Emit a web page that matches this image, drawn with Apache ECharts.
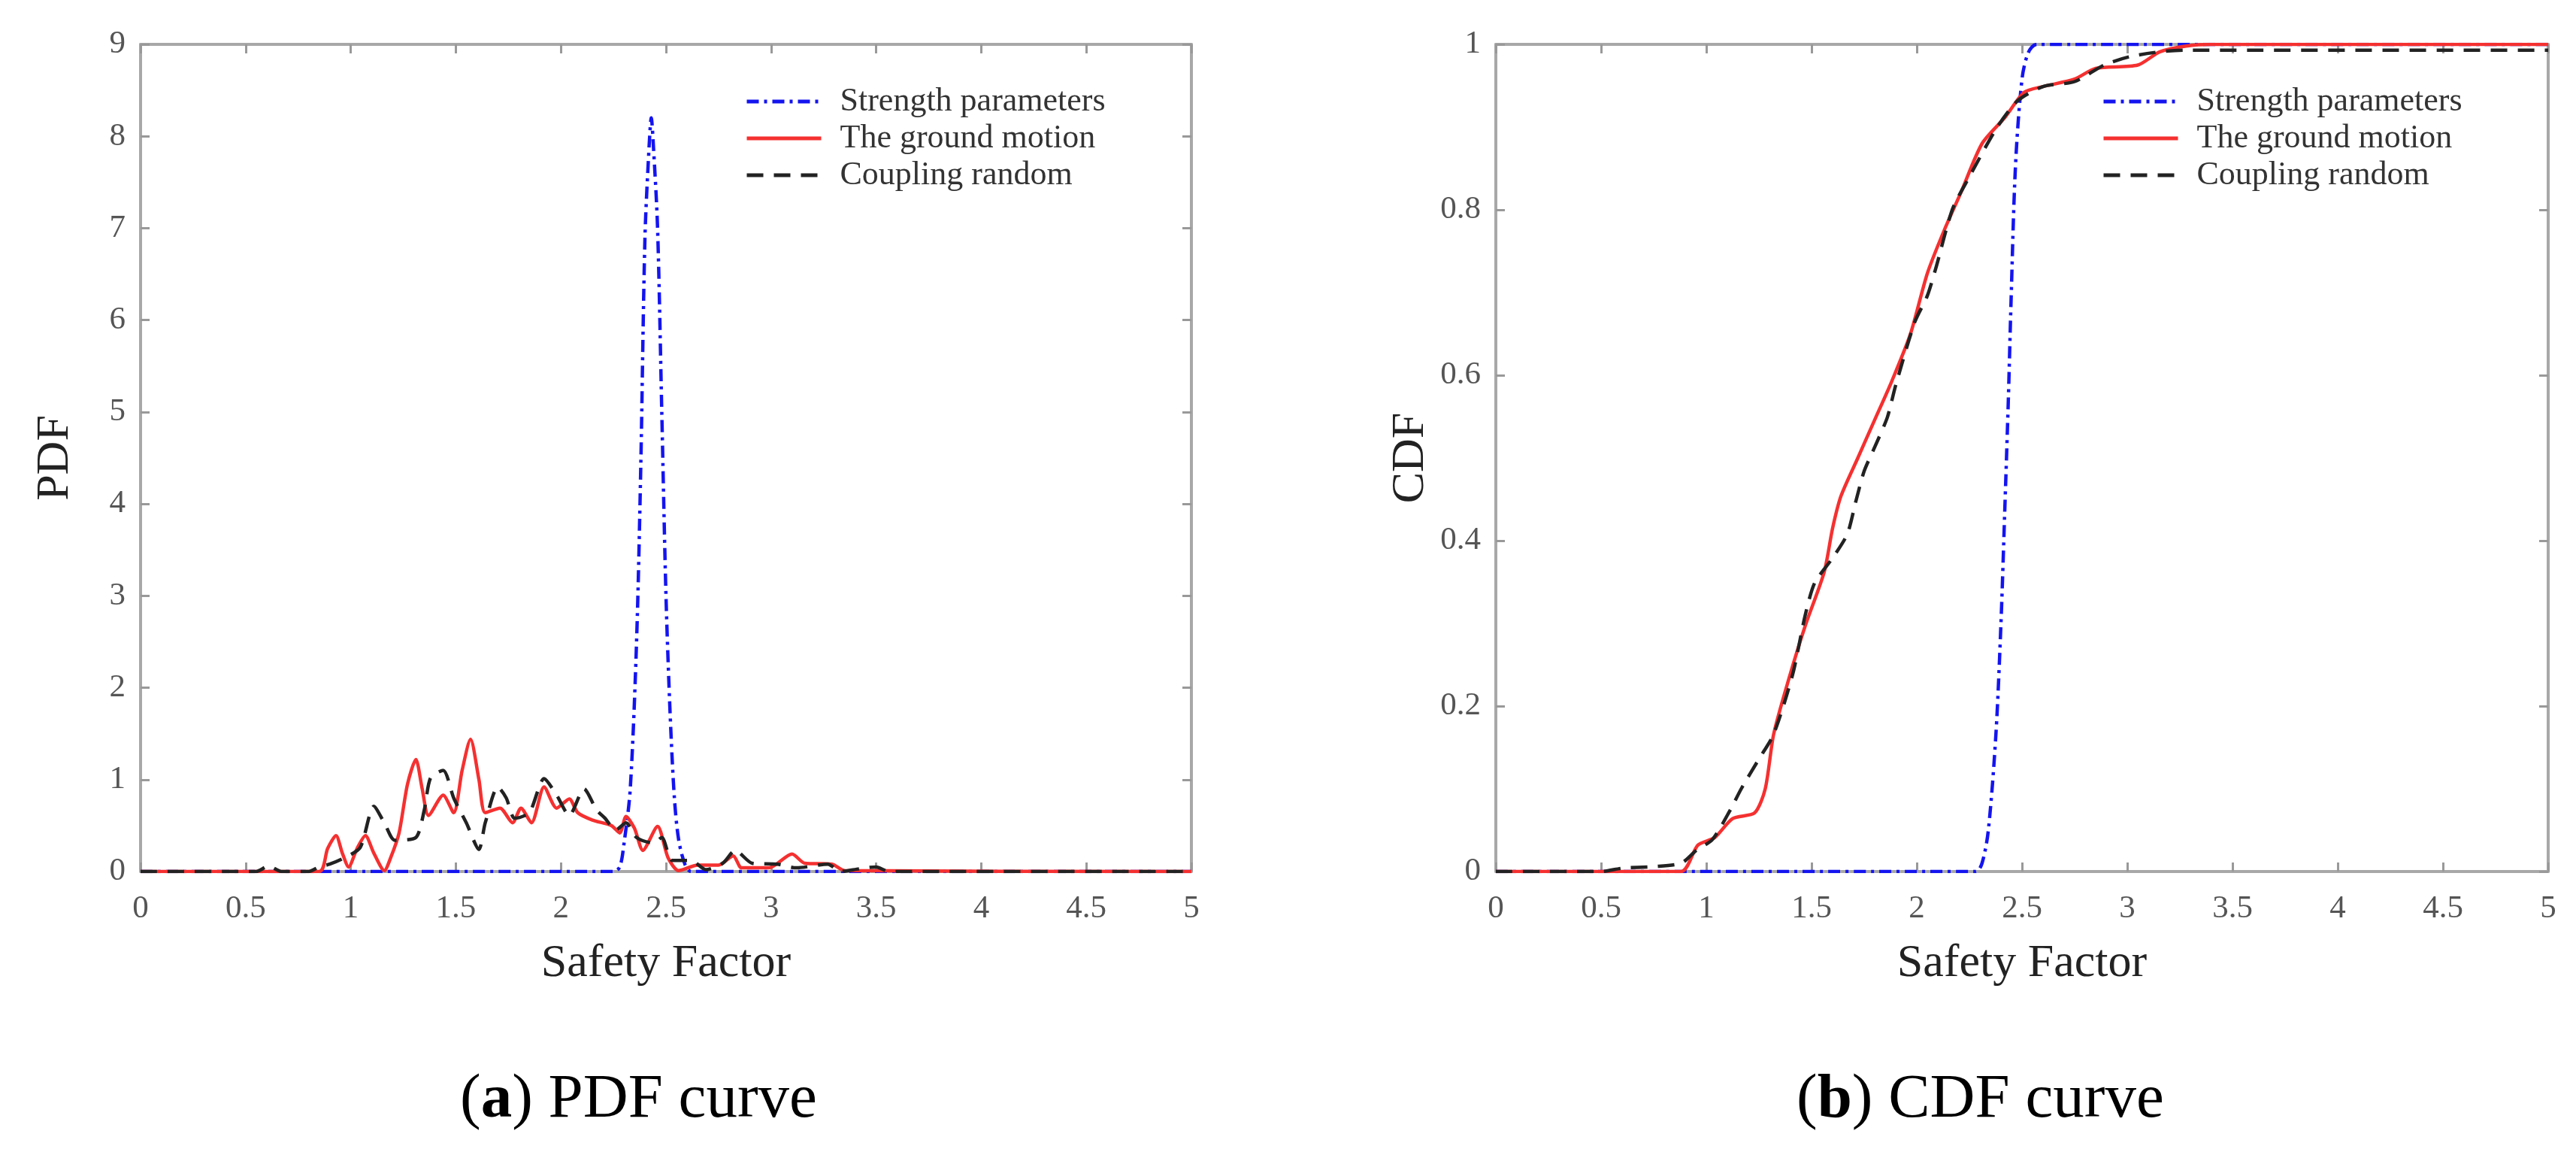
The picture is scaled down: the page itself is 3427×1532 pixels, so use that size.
<!DOCTYPE html>
<html><head><meta charset="utf-8">
<script src="https://cdn.jsdelivr.net/npm/echarts@6/dist/echarts.min.js"></script>
<style>html,body{margin:0;padding:0;background:#fff}#c{width:3427px;height:1532px}</style>
</head><body><div id="c"></div>
<script>
const seriesNames = ['Strength parameters', 'The ground motion', 'Coupling random'];
const xAxisTitle = 'Safety Factor';
const captions = [['a', ' PDF curve'], ['b', ' CDF curve']];

// (a) PDF curves
const pdfStrengthX = [0, 2.25, 2.28, 2.30, 2.33, 2.36, 2.38, 2.40, 2.42, 2.43, 2.44, 2.46, 2.48, 2.50, 2.52, 2.54, 2.56, 2.59, 2.62, 5];
const pdfStrengthY = [0, 0, 0.05, 0.3, 0.9, 2.5, 4.4, 6.9, 7.9, 8.2, 7.9, 7.0, 5.0, 3.0, 1.7, 0.8, 0.35, 0.08, 0, 0];

const pdfGroundX = [0, 0.85, 0.89, 0.93, 0.96, 0.99, 1.03, 1.07, 1.11, 1.16, 1.19, 1.23, 1.27, 1.31, 1.34, 1.37, 1.44, 1.49, 1.53, 1.57, 1.61, 1.64, 1.71, 1.77, 1.81, 1.86, 1.92, 1.98, 2.04, 2.08, 2.15, 2.24, 2.28, 2.31, 2.35, 2.39, 2.46, 2.51, 2.56, 2.65, 2.75, 2.82, 2.86, 2.99, 3.10, 3.16, 3.29, 3.35, 5];
const pdfGroundY = [0, 0, 0.25, 0.39, 0.2, 0.05, 0.25, 0.39, 0.2, 0.01, 0.15, 0.42, 0.95, 1.22, 0.9, 0.61, 0.83, 0.64, 1.1, 1.44, 1.0, 0.64, 0.69, 0.53, 0.69, 0.53, 0.92, 0.69, 0.79, 0.64, 0.56, 0.50, 0.42, 0.60, 0.47, 0.23, 0.49, 0.15, 0.01, 0.07, 0.07, 0.17, 0.04, 0.04, 0.19, 0.09, 0.08, 0.01, 0];

const pdfCouplingX = [0, 0.55, 0.61, 0.67, 0.80, 0.85, 0.90, 0.97, 1.045, 1.11, 1.16, 1.21, 1.31, 1.35, 1.38, 1.44, 1.49, 1.55, 1.61, 1.64, 1.70, 1.74, 1.78, 1.85, 1.92, 1.98, 2.04, 2.11, 2.17, 2.21, 2.26, 2.31, 2.36, 2.44, 2.48, 2.53, 2.62, 2.69, 2.77, 2.83, 2.91, 3.03, 3.12, 3.27, 3.33, 3.42, 3.50, 3.56, 5];
const pdfCouplingY = [0, 0, 0.06, 0, 0, 0.05, 0.08, 0.15, 0.26, 0.71, 0.53, 0.34, 0.37, 0.67, 1.02, 1.10, 0.80, 0.53, 0.24, 0.53, 0.92, 0.80, 0.58, 0.64, 1.01, 0.83, 0.61, 0.90, 0.67, 0.58, 0.45, 0.53, 0.37, 0.31, 0.37, 0.12, 0.12, 0.02, 0.09, 0.23, 0.09, 0.08, 0.04, 0.08, 0.0, 0.03, 0.05, 0, 0];

// (b) CDF curves
const cdfStrengthX = [0, 2.28, 2.31, 2.34, 2.376, 2.40, 2.417, 2.435, 2.448, 2.469, 2.50, 2.53, 2.57, 5];
const cdfStrengthY = [0, 0, 0.01, 0.05, 0.166, 0.30, 0.428, 0.57, 0.69, 0.853, 0.958, 0.99, 1, 1];

const cdfGroundX = [0, 0.88, 0.96, 1.04, 1.125, 1.23, 1.28, 1.32, 1.39, 1.47, 1.56, 1.60, 1.64, 1.72, 1.80, 1.88, 1.97, 2.05, 2.13, 2.21, 2.31, 2.42, 2.51, 2.60, 2.75, 2.85, 3.05, 3.155, 3.28, 3.4, 5];
const cdfGroundY = [0, 0, 0.032, 0.041, 0.064, 0.071, 0.10, 0.166, 0.231, 0.297, 0.362, 0.415, 0.454, 0.50, 0.546, 0.592, 0.650, 0.723, 0.775, 0.821, 0.880, 0.912, 0.942, 0.949, 0.958, 0.971, 0.975, 0.991, 0.998, 1, 1];

const cdfCouplingX = [0, 0.5, 0.6, 0.75, 0.88, 0.95, 1.03, 1.115, 1.166, 1.25, 1.32, 1.41, 1.47, 1.515, 1.60, 1.67, 1.71, 1.75, 1.80, 1.86, 1.90, 1.99, 2.05, 2.09, 2.17, 2.25, 2.38, 2.48, 2.60, 2.75, 2.89, 3.01, 3.155, 3.28, 5];
const cdfCouplingY = [0, 0, 0.004, 0.006, 0.01, 0.025, 0.039, 0.075, 0.10, 0.136, 0.166, 0.238, 0.31, 0.349, 0.379, 0.408, 0.447, 0.484, 0.513, 0.549, 0.588, 0.664, 0.696, 0.729, 0.801, 0.84, 0.899, 0.932, 0.949, 0.955, 0.975, 0.985, 0.991, 0.993, 0.993];

const FONT = 'Liberation Serif';
const zip = (xs, ys) => xs.map((x, i) => [x, ys[i]]);
const colors = ['#1414f0', '#f53030', '#222222'];
const dashes = [[16, 7, 4, 7], 'solid', [22, 14]];

const grids = [
  { left: 187, top: 59, width: 1398, height: 1100 },
  { left: 1990, top: 59, width: 1400, height: 1100 }
];
const yCfg = [
  { max: 9, interval: 1, name: 'PDF' },
  { max: 1, interval: 0.2, name: 'CDF' }
];
const axisLine = { show: true, onZero: false, lineStyle: { color: '#a8a8a8', width: 4 } };
const axisTick = { show: true, inside: true, length: 12, lineStyle: { color: '#999', width: 3 } };

const xAxes = [], yAxes = [];
grids.forEach((g, gi) => {
  xAxes.push({
    gridIndex: gi, type: 'value', position: 'bottom', min: 0, max: 5, interval: 0.5,
    axisLine, axisTick, splitLine: { show: false },
    axisLabel: { fontFamily: FONT, fontSize: 43, color: '#555', margin: 28 },
    name: xAxisTitle, nameLocation: 'middle', nameGap: 92,
    nameTextStyle: { fontFamily: FONT, fontSize: 62, color: '#222' }
  });
  xAxes.push({
    gridIndex: gi, type: 'value', position: 'top', min: 0, max: 5, interval: 0.5,
    axisLine, axisTick, splitLine: { show: false }, axisLabel: { show: false }
  });
  yAxes.push({
    gridIndex: gi, type: 'value', position: 'left', min: 0, max: yCfg[gi].max, interval: yCfg[gi].interval,
    axisLine, axisTick, splitLine: { show: false },
    axisLabel: { fontFamily: FONT, fontSize: 43, color: '#555', margin: 20 },
    name: yCfg[gi].name, nameLocation: 'middle', nameGap: 82,
    nameTextStyle: { fontFamily: FONT, fontSize: 62, color: '#222' }
  });
  yAxes.push({
    gridIndex: gi, type: 'value', position: 'right', min: 0, max: yCfg[gi].max, interval: yCfg[gi].interval,
    axisLine, axisTick, splitLine: { show: false }, axisLabel: { show: false }
  });
});

const data = [
  [zip(pdfStrengthX, pdfStrengthY), zip(pdfGroundX, pdfGroundY), zip(pdfCouplingX, pdfCouplingY)],
  [zip(cdfStrengthX, cdfStrengthY), zip(cdfGroundX, cdfGroundY), zip(cdfCouplingX, cdfCouplingY)]
];
const series = [];
data.forEach((set, gi) => {
  set.forEach((d, si) => {
    series.push({
      type: 'line', name: seriesNames[si], data: d,
      xAxisIndex: gi * 2, yAxisIndex: gi * 2,
      symbol: 'none', showSymbol: false,
      smooth: (si === 0) ? 0.3 : 0.25,
      lineStyle: { color: colors[si], width: 4.5, type: dashes[si] },
      itemStyle: { color: colors[si] },
      z: 2 + si
    });
  });
});

const legendBase = {
  orient: 'vertical', top: 108, itemWidth: 99, itemHeight: 14, itemGap: 5,
  data: seriesNames, selectedMode: false,
  itemStyle: { color: 'transparent', borderColor: 'transparent', borderWidth: 0, opacity: 0 },
  lineStyle: { width: 5 },
  textStyle: { fontFamily: FONT, fontSize: 44, color: '#333', lineHeight: 44, padding: [0, 0, 0, 20] }
};

const titles = captions.map((c, i) => ({
  text: '{p|(}{b|' + c[0] + '}{p|)' + c[1] + '}',
  left: i === 0 ? 612 : 2390, top: 1422, padding: 0,
  textStyle: {
    fontWeight: 'normal',
    rich: {
      p: { fontFamily: FONT, fontSize: 83, color: '#000', fontWeight: 'normal', lineHeight: 83 },
      b: { fontFamily: FONT, fontSize: 83, color: '#000', fontWeight: 'bold', lineHeight: 83 }
    }
  }
}));

const chart = echarts.init(document.getElementById('c'));
chart.setOption({
  backgroundColor: '#ffffff',
  animation: false,
  title: titles,
  grid: grids,
  xAxis: xAxes,
  yAxis: yAxes,
  legend: [
    Object.assign({}, legendBase, { left: 986 }),
    Object.assign({}, legendBase, { left: 2791 })
  ],
  series
});
</script></body></html>
